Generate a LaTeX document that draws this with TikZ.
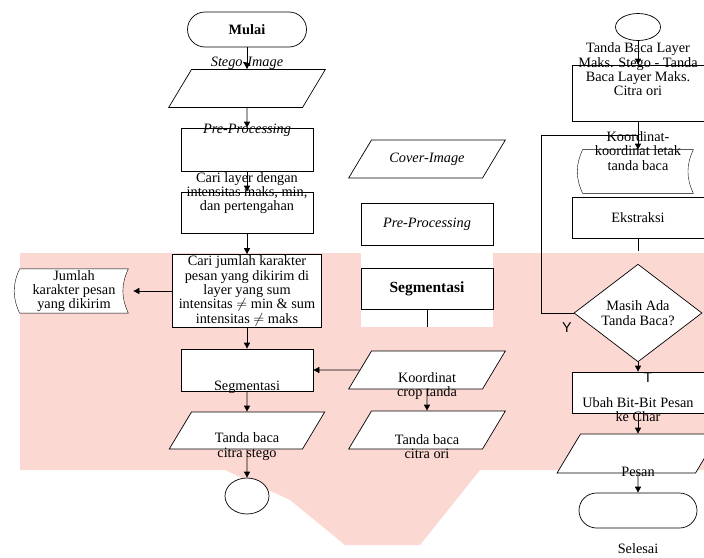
\documentclass[tikz,border=0pt]{standalone}
\usepackage{fontspec}
\setmainfont{Liberation Serif}
\newfontfamily\ysans{Liberation Sans}
\usetikzlibrary{positioning,shapes.geometric,arrows.meta,backgrounds}
\definecolor{wmpink}{RGB}{252,216,211}
\newcommand{\fs}{\fontsize{14.3pt}{14.3pt}\selectfont}

\begin{document}
\begin{tikzpicture}[x=1pt, y=-1pt, line width=0.7pt, >={Triangle[length=6pt,width=6pt]},
  font=\fs, inner sep=1pt,
  proc/.style = {draw, rectangle, fill=white, align=center, minimum width=132pt, minimum height=42pt},
  io/.style = {draw, trapezium, trapezium left angle=59, trapezium right angle=121, fill=white,
    align=center, inner sep=0pt, text width=111pt, text height=22pt, text depth=16pt},
  term/.style = {draw, rectangle, rounded corners=17.5pt, fill=white, minimum width=119pt, minimum height=35pt},
  conn/.style = {draw, ellipse, fill=white},
  doc/.style = {rectangle, align=center, minimum width=108pt, minimum height=42pt},
  dec/.style = {draw, diamond, fill=white, align=center, minimum width=128pt, minimum height=77pt, inner sep=0pt}]
\useasboundingbox (0,0) rectangle (704,557);

% kolom kiri
\node[term, font=\fs\bfseries] (mulai) at (247,29.5) {Mulai};
\node[io] (stego) at (247,88.5) {};
\node[font=\fs\itshape] (t-stego) at (247,63) {Stego-Image};
\node[proc, minimum height=43pt] (pre1) at (247,149.5) {};
\node[font=\fs\itshape] (t-pre1) at (247,130) {Pre-Processing};
\node[proc, minimum height=41pt] (layer) at (247,212.5) {};
\node[align=center] (t-layer) at (247,193) {Cari layer dengan\\intensitas maks, min,\\dan pertengahan};
\node[proc, minimum width=149pt, minimum height=73pt] (jumlah) at (247,291) {Cari jumlah karakter\\pesan yang dikirim di\\layer yang sum\\intensitas $\neq$ min \& sum\\intensitas $\neq$ maks};
\node[doc] (jml) at (74,291) {Jumlah\\karakter pesan\\yang dikirim};
\node[proc] (seg1) at (247,370) {};
\node (t-seg1) at (247,387) {Segmentasi};
\node[io, text height=21pt] (tbs) at (247,430.5) {};
\node[align=center] (t-tbs) at (247,446.5) {Tanda baca\\citra stego};
\node[conn, minimum width=44pt, minimum height=36pt] (kon1) at (247,496) {};

% kolom tengah
\node[io, font=\fs\itshape] (cover) at (427,159) {Cover-Image};
\node[proc, font=\fs\itshape] (pre2) at (427,224) {Pre-Processing};
\node[proc, minimum height=41pt, font=\fontsize{15.5pt}{15.5pt}\selectfont\bfseries] (seg2) at (427,288.5) {Segmentasi};
\coordinate (seg2end) at (427,327);
\node[io] (crop) at (427,370) {};
\node[align=center] (t-crop) at (427,386) {Koordinat\\crop tanda};
\node[io] (tbo) at (427,430) {};
\node[align=center] (t-tbo) at (427,446.5) {Tanda baca\\citra ori};

% kolom kanan
\node[conn, minimum width=45pt, minimum height=27pt] (kon2) at (638,27) {};
\node[proc, minimum height=56pt] (selisih) at (638,93) {};
\node[align=center] (t-selisih) at (638,69.5) {Tanda Baca Layer\\Maks. Stego - Tanda\\Baca Layer Maks.\\Citra ori};
\node[doc, minimum width=110pt, minimum height=43pt] (letak) at (638,171.5) {};
\node[align=center] (t-letak) at (638,151) {Koordinat-\\koordinat letak\\tanda baca};
\coordinate (loopend) at (638,135);
\node[proc, minimum height=41pt] (ekstr) at (638,217.5) {Ekstraksi};
\coordinate (ekstrend) at (638,251);
\node[dec] (cek) at (638,313) {Masih Ada\\Tanda Baca?};
\node[font=\fs\ysans] (lbl-y) at (567,328) {Y};
\node[proc, minimum height=41pt] (ubah) at (638,392.5) {};
\node[font=\fs\ysans] (lbl-t) at (648,378) {T};
\node[align=center] (t-ubah) at (638,409.5) {Ubah Bit-Bit Pesan\\ke Char};
\node[io, text width=115pt, text height=23pt] (pesan) at (638,453.5) {};
\node (t-pesan) at (638,472) {Pesan};
\node[term, minimum width=118pt] (selesai) at (638,510.5) {};
\node (t-selesai) at (638,549) {Selesai};

% latar dan simbol dokumen
\begin{scope}[on background layer]
  \fill[wmpink] (20,253) -- (704,253) -- (704,470) -- (480,470) -- (420,545) -- (345,545)
    -- (290,500) -- (225,470) -- (20,470) -- cycle;
  \fill[white] (361,253) rectangle (493,327);
  \draw[fill=white] (jml.north east) to[bend right=25] (jml.south east) -- (jml.south west)
    to[bend left=25] (jml.north west) -- cycle;
  \draw[fill=white] (letak.north east) to[bend right=25] (letak.south east) -- (letak.south west)
    to[bend left=25] (letak.north west) -- cycle;
\end{scope}

\draw[->] (mulai) -- (stego);
\draw[->] (stego) -- (pre1);
\draw[->] (pre1) -- (layer);
\draw[->] (layer) -- (jumlah);
\draw[->, shorten >=5pt] (jumlah) -- (jml);
\draw[->] (jumlah) -- (seg1);
\draw[->] (seg1) -- (tbs);
\draw[->] (tbs) -- (kon1);
\draw (seg2) -- (seg2end);
\draw[->] (crop) -- (seg1);
\draw[->] (crop) -- (tbo);
\draw[->] (kon2) -- (selisih);
\draw[->] (selisih) -- (letak);
\draw (ekstr) -- (ekstrend);
\draw[->] (cek) -- (ubah);
\draw[->] (ubah) -- (pesan);
\draw[->] (pesan) -- (selesai);
\draw (cek.west) -- ++(-32,0) |- (loopend);
\end{tikzpicture}
\end{document}
